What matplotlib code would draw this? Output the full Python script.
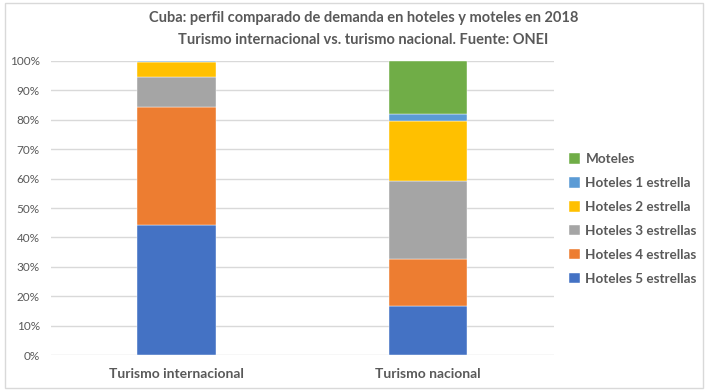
import matplotlib
matplotlib.use("Agg")
import matplotlib.pyplot as plt
from matplotlib.patches import Rectangle
from matplotlib.ticker import PercentFormatter

plt.rcParams['font.family'] = ['Lato', 'DejaVu Sans']

categories = ["Turismo internacional", "Turismo nacional"]
series_names = ["Hoteles 5 estrellas", "Hoteles 4 estrellas", "Hoteles 3 estrellas",
                "Hoteles 2 estrella", "Hoteles 1 estrella", "Moteles"]
hoteles_5 = [44.1, 16.8]
hoteles_4 = [40.4, 15.9]
hoteles_3 = [9.9, 26.5]
hoteles_2 = [5.4, 20.4]
hoteles_1 = [0.1, 2.5]
moteles = [0.1, 17.9]
series = [hoteles_5, hoteles_4, hoteles_3, hoteles_2, hoteles_1, moteles]
colors = ["#4472C4", "#ED7D31", "#A5A5A5", "#FFC000", "#5B9BD5", "#70AD47"]

txt = "#595959"
fig = plt.figure(figsize=(7.08, 3.91), dpi=100)
fig.patches.append(Rectangle((0.007, 0.008), 0.986, 0.985, transform=fig.transFigure,
                             fill=False, edgecolor="#D9D9D9", linewidth=1))
ax = fig.add_axes([0.072, 0.092, 0.7105, 0.752])

x = list(range(len(categories)))
bottom = [0.0] * len(categories)
handles = []
for name, vals, c in zip(series_names, series, colors):
    b = ax.bar(x, vals, width=0.312, bottom=bottom, color=c, label=name,
               edgecolor="white", linewidth=0.3, zorder=3)
    handles.append(b)
    bottom = [bb + v for bb, v in zip(bottom, vals)]

ax.set_xlim(-0.5, 1.5)
ax.set_ylim(0, 100)
ax.set_yticks(range(0, 101, 10))
ax.yaxis.set_major_formatter(PercentFormatter(decimals=0))
ax.set_xticks(x)
ax.set_xticklabels(categories, fontsize=10, fontweight='bold', color=txt)
ax.tick_params(axis='y', labelsize=8.5, colors=txt, length=0, pad=8)
ax.tick_params(axis='x', length=0, pad=9)
ax.grid(axis='y', color="#D9D9D9", linewidth=1, zorder=0)
for s in ax.spines.values():
    s.set_visible(False)

fig.text(0.513, 0.955, "Cuba: perfil comparado de demanda en hoteles y moteles en 2018",
         ha='center', va='center', fontsize=10.5, fontweight='bold', color=txt)
fig.text(0.513, 0.898, "Turismo internacional vs. turismo nacional. Fuente: ONEI",
         ha='center', va='center', fontsize=10.5, fontweight='bold', color=txt)

leg = fig.legend(handles[::-1], series_names[::-1], loc='center left',
                 bbox_to_anchor=(0.787, 0.44), frameon=False, fontsize=9.7,
                 handlelength=0.8, handleheight=0.8, handletextpad=0.4,
                 labelspacing=0.88)
for t in leg.get_texts():
    t.set_color(txt)
    t.set_fontweight('bold')

fig.savefig("out.png", dpi=100)
